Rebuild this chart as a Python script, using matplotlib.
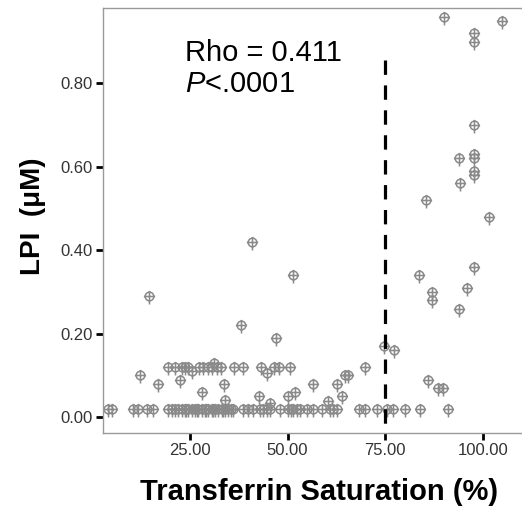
import numpy as np
import matplotlib
matplotlib.use("Agg")
import matplotlib.pyplot as plt
from matplotlib.path import Path

plt.rcParams["font.family"] = ["Liberation Sans", "DejaVu Sans"]
plt.rcParams["mathtext.fontset"] = "custom"
plt.rcParams["mathtext.rm"] = "Liberation Sans"
plt.rcParams["mathtext.it"] = "Liberation Sans:italic"

# =========================
# Data
# =========================
# points sitting on the ~0.02 floor
tsat_low = [4.0, 5.0, 10.5, 11.8, 13.9, 15.6, 19.5, 20.3, 21.2, 22.0, 22.9, 23.7,
            24.0, 24.6, 25.4, 26.3, 26.8, 27.1, 28.0, 28.8, 29.2, 29.7, 30.6, 31.0,
            31.4, 32.3, 33.1, 33.5, 34.0, 34.8, 35.4, 36.1, 38.6, 39.9, 41.2, 42.9,
            43.8, 44.6, 45.5, 48.0, 50.2, 50.8, 51.4, 52.3, 53.2, 54.9, 56.6, 58.7,
            60.8, 61.7, 62.6, 68.3, 69.8, 72.8, 75.4, 77.0, 80.0, 83.9, 91.1]
lpi_low = [0.02] * len(tsat_low)

# points around the ~0.12 band
tsat_mid = [19.3, 21.3, 23.0, 23.7, 24.5, 25.4, 27.3, 28.4, 29.7, 30.6, 31.2,
            32.0, 32.9, 36.2, 38.6, 43.3, 44.6, 46.6, 47.9, 50.6, 69.8]
lpi_mid = [0.12, 0.12, 0.12, 0.12, 0.12, 0.11, 0.12, 0.12, 0.12, 0.12, 0.13,
           0.12, 0.12, 0.12, 0.12, 0.12, 0.105, 0.12, 0.12, 0.12, 0.12]

# everything else
tsat_rest = [12.2, 16.8, 22.4, 28.1, 33.6, 34.1, 42.7, 45.5, 50.2, 51.9, 56.6,
             60.4, 62.6, 63.8, 64.7, 65.5, 14.5, 38.0, 40.8, 47.0, 51.4,
             74.7, 77.2, 83.7, 85.3, 86.0, 87.0, 87.0, 88.6, 89.7, 90.0, 93.9,
             93.9, 94.1, 95.8, 97.7, 97.7, 97.7, 97.7, 97.7, 97.7, 97.7, 97.7,
             101.6, 104.9]
lpi_rest = [0.10, 0.08, 0.09, 0.06, 0.08, 0.04, 0.05, 0.034, 0.05, 0.06, 0.08,
            0.038, 0.08, 0.05, 0.10, 0.10, 0.29, 0.22, 0.42, 0.19, 0.34,
            0.17, 0.16, 0.34, 0.52, 0.09, 0.30, 0.28, 0.07, 0.07, 0.96, 0.26,
            0.62, 0.56, 0.31, 0.36, 0.59, 0.58, 0.62, 0.63, 0.70, 0.90, 0.92,
            0.48, 0.95]

tsat = np.array(tsat_low + tsat_mid + tsat_rest)
lpi = np.array(lpi_low + lpi_mid + lpi_rest)

cutoff = 75
rho_text = "Rho = 0.411"
p_text = r"$P$<.0001"

# =========================
# Marker: circle with a cross, longer stem below
# =========================
circle = Path.unit_circle()
cross = Path([(-1.3, 0), (1.3, 0), (0, 1.3), (0, -1.85)],
             [Path.MOVETO, Path.LINETO, Path.MOVETO, Path.LINETO])
marker = Path.make_compound_path(circle, cross)

# =========================
# Plot
# =========================
fig = plt.figure(figsize=(5.22, 5.13), dpi=100)
ax = fig.add_axes([0.197, 0.156, 0.803, 0.828])

ax.plot(tsat, lpi, linestyle="none", marker=marker, markersize=11.5,
        markerfacecolor="none", markeredgecolor="#8a8a8a", markeredgewidth=1.1)

# drawn top-down so the dash pattern starts with a full dash at the top
ax.plot([cutoff, cutoff], [0.855, -0.04], color="black", linewidth=2.3,
        dashes=(4.5, 3.3))

ax.text(23.7, 0.854, rho_text, fontsize=21, ha="left", va="baseline")
ax.text(23.7, 0.778, p_text, fontsize=21, ha="left", va="baseline")

ax.set_xlim(2.7, 110)
ax.set_ylim(-0.038, 0.98)
ax.set_xticks([25, 50, 75, 100])
ax.set_xticklabels(["25.00", "50.00", "75.00", "100.00"])
ax.set_yticks([0, 0.2, 0.4, 0.6, 0.8])
ax.set_yticklabels(["0.00", "0.20", "0.40", "0.60", "0.80"])
ax.tick_params(length=5, width=2, color="black", labelsize=12,
               labelcolor="#333333", pad=2)

for side in ["left", "bottom", "top"]:
    ax.spines[side].set_color("#9a9a9a")
    ax.spines[side].set_linewidth(1)
ax.spines["right"].set_visible(False)

fig.text(0.611, 0.041, "Transferrin Saturation (%)", fontsize=21,
         fontweight="bold", ha="center", va="center")
fig.text(0.063, 0.579, "LPI  (μM)", fontsize=20, fontweight="bold",
         rotation=90, ha="center", va="center")

fig.savefig("out.png", dpi=100)
